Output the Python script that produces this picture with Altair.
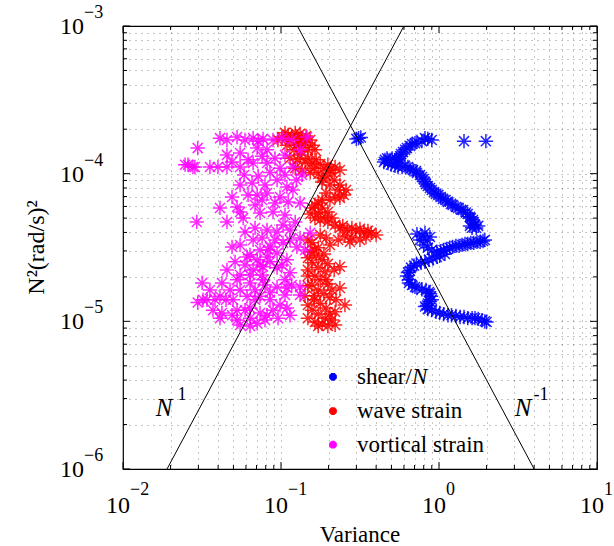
import altair as alt
import pandas as pd

# ---------------- data ----------------
shear_var = [1.44, 1.98, 0.31, 0.30, 0.32, 0.85, 0.78, 0.705, 0.655, 0.61,
             0.575, 0.559, 0.535, 0.49, 0.455, 0.476, 0.527, 0.584, 0.636, 0.685,
             0.725, 0.78, 0.815, 0.85, 0.90, 0.957, 1.025, 1.10, 1.19, 1.28,
             1.38, 1.48, 1.57, 1.64, 1.69, 1.62, 1.77,
             0.90, 0.815, 0.725, 0.675, 0.627, 0.592, 0.567, 0.543, 0.505, 0.469,
             0.448, 0.498, 0.551, 0.61, 0.655, 0.715, 0.758, 0.80, 0.827, 0.877,
             0.93, 0.99, 1.06, 1.14, 1.22, 1.32, 1.42, 1.52, 1.59, 1.66, 1.72, 1.57,
             0.725, 0.815, 0.877, 0.758, 0.85, 0.97, 1.07, 1.17, 1.28, 1.40,
             1.52, 1.66, 1.82, 1.95, 1.01, 0.916, 0.815, 0.72, 0.665, 0.636,
             0.645, 0.675, 0.725, 0.827, 0.877, 0.90, 0.85, 0.815, 0.90, 1.01,
             1.14, 1.28, 1.44, 1.62, 1.77, 2.0,
             0.78, 0.84, 0.80, 0.90, 1.025, 1.12, 1.22, 1.34, 1.46, 1.59, 1.74, 1.90,
             1.09, 0.97, 0.864, 0.77, 0.695, 0.655, 0.627, 0.645, 0.705, 0.78, 0.864,
             0.89, 0.877, 0.84, 0.85, 0.957, 1.07, 1.20, 1.36, 1.52, 1.69, 1.87, 1.95]
shear_n2 = [1.66e-4, 1.66e-4, 1.74e-4, 1.72e-4, 1.76e-4, 1.72e-4, 1.66e-4, 1.61e-4, 1.54e-4, 1.45e-4,
            1.36e-4, 1.27e-4, 1.20e-4, 1.24e-4, 1.24e-4, 1.18e-4, 1.13e-4, 1.11e-4, 1.11e-4, 1.06e-4,
            1.01e-4, 9.5e-5, 8.8e-5, 8.25e-5, 7.76e-5, 7.3e-5, 6.95e-5, 6.64e-5, 6.24e-5, 5.95e-5,
            5.7e-5, 5.45e-5, 5.1e-5, 4.86e-5, 4.5e-5, 4.3e-5, 4.43e-5,
            1.69e-4, 1.74e-4, 1.64e-4, 1.59e-4, 1.49e-4, 1.40e-4, 1.31e-4, 1.24e-4, 1.27e-4, 1.27e-4,
            1.20e-4, 1.15e-4, 1.11e-4, 1.13e-4, 1.07e-4, 1.04e-4, 9.8e-5, 9.2e-5, 8.5e-5, 8.0e-5,
            7.5e-5, 7.18e-5, 6.75e-5, 6.44e-5, 6.14e-5, 5.86e-5, 5.68e-5, 5.33e-5, 5.0e-5, 4.71e-5, 4.29e-5, 4.43e-5,
            3.9e-5, 3.97e-5, 3.72e-5, 3.56e-5, 3.15e-5, 2.95e-5, 3.04e-5, 3.15e-5, 3.24e-5, 3.29e-5,
            3.34e-5, 3.40e-5, 3.45e-5, 3.56e-5, 2.78e-5, 2.66e-5, 2.53e-5, 2.46e-5, 2.31e-5, 2.14e-5,
            1.91e-5, 1.76e-5, 1.68e-5, 1.63e-5, 1.54e-5, 1.40e-5, 1.32e-5, 1.26e-5, 1.19e-5, 1.14e-5,
            1.10e-5, 1.09e-5, 1.07e-5, 1.05e-5, 1.04e-5, 9.9e-6,
            3.79e-5, 3.56e-5, 3.29e-5, 3.04e-5, 2.99e-5, 3.09e-5, 3.19e-5, 3.24e-5, 3.34e-5, 3.40e-5, 3.45e-5, 3.5e-5,
            2.86e-5, 2.73e-5, 2.61e-5, 2.49e-5, 2.38e-5, 2.2e-5, 2.03e-5, 1.82e-5, 1.71e-5, 1.65e-5, 1.58e-5,
            1.48e-5, 1.36e-5, 1.28e-5, 1.21e-5, 1.16e-5, 1.12e-5, 1.10e-5, 1.07e-5, 1.05e-5, 1.05e-5, 1.02e-5, 1.0e-5]

wave_var = [0.1015, 0.111, 0.123, 0.132, 0.144, 0.114, 0.127, 0.142, 0.157, 0.132, 0.121, 0.148, 0.0957,
            0.114, 0.127, 0.142, 0.157, 0.177, 0.198, 0.220, 0.123, 0.136, 0.153, 0.172, 0.193, 0.210,
            0.182, 0.204, 0.230, 0.250, 0.220, 0.193,
            0.172, 0.157, 0.172, 0.190, 0.164,
            0.198, 0.220, 0.236, 0.262, 0.298, 0.335, 0.372, 0.254, 0.281, 0.316, 0.230, 0.204,
            0.157, 0.172, 0.153, 0.167, 0.182, 0.157, 0.172, 0.190, 0.164, 0.177, 0.198, 0.157,
            0.172, 0.187, 0.204, 0.162, 0.177, 0.193, 0.157, 0.172, 0.190, 0.164, 0.182, 0.210,
            0.236, 0.254, 0.142, 0.220, 0.236, 0.148,
            0.106, 0.117, 0.136, 0.153, 0.109, 0.125, 0.136, 0.164,
            0.132, 0.148, 0.167, 0.187, 0.204, 0.236, 0.162, 0.182, 0.217, 0.236,
            0.258, 0.236, 0.204, 0.182, 0.164, 0.182, 0.198, 0.153, 0.177, 0.210,
            0.246, 0.281, 0.316, 0.355, 0.40, 0.345, 0.273, 0.193, 0.177, 0.148,
            0.162, 0.187, 0.148, 0.198, 0.217, 0.148, 0.193, 0.210, 0.148, 0.162,
            0.223, 0.148, 0.204, 0.148, 0.198, 0.220, 0.172]
wave_n2 = [1.77e-4, 1.83e-4, 1.89e-4, 1.86e-4, 1.80e-4, 1.69e-4, 1.69e-4, 1.64e-4, 1.56e-4, 1.51e-4, 1.45e-4, 1.45e-4, 1.69e-4,
           1.27e-4, 1.24e-4, 1.20e-4, 1.18e-4, 1.16e-4, 1.15e-4, 1.11e-4, 1.09e-4, 1.06e-4, 1.02e-4, 9.95e-5, 9.65e-5, 1.02e-4,
           8.78e-5, 8.38e-5, 7.76e-5, 7.18e-5, 6.95e-5, 7.4e-5,
           6.34e-5, 5.86e-5, 5.42e-5, 5.09e-5, 5.0e-5,
           4.71e-5, 4.5e-5, 4.29e-5, 4.16e-5, 4.1e-5, 4.03e-5, 3.97e-5, 3.79e-5, 3.67e-5, 3.56e-5, 3.56e-5, 3.29e-5,
           3.40e-5, 3.15e-5, 2.95e-5, 2.78e-5, 2.61e-5, 2.49e-5, 2.31e-5, 2.17e-5, 2.03e-5, 1.91e-5, 1.79e-5, 1.76e-5,
           1.63e-5, 1.54e-5, 1.45e-5, 1.40e-5, 1.32e-5, 1.23e-5, 1.19e-5, 1.12e-5, 1.05e-5, 9.9e-6, 9.6e-6, 1.02e-5,
           1.68e-5, 1.29e-5, 1.49e-5, 1.16e-5, 2.34e-5, 2.23e-5,
           1.89e-4, 1.77e-4, 1.74e-4, 1.69e-4, 1.56e-4, 1.56e-4, 1.51e-4, 1.45e-4,
           1.34e-4, 1.27e-4, 1.24e-4, 1.09e-4, 1.06e-4, 1.06e-4, 1.09e-4, 9.35e-5, 9.06e-5, 8.38e-5,
           7.76e-5, 6.85e-5, 6.64e-5, 6.64e-5, 6.14e-5, 5.86e-5, 5.5e-5, 5.33e-5, 4.86e-5, 5.0e-5,
           4.43e-5, 4.29e-5, 4.23e-5, 4.1e-5, 3.85e-5, 3.72e-5, 3.45e-5, 3.67e-5, 3.85e-5, 3.56e-5,
           3.04e-5, 2.86e-5, 2.69e-5, 2.45e-5, 2.23e-5, 2.03e-5, 1.91e-5, 1.63e-5, 1.74e-5, 1.49e-5,
           1.40e-5, 1.29e-5, 1.12e-5, 1.05e-5, 9.3e-6, 9.45e-6, 9.3e-6]

vort_var = [0.0411, 0.0455, 0.0527, 0.0666, 0.0770, 0.0890, 0.146, 0.0297, 0.0258, 0.0285,
            0.0399, 0.0455, 0.0551, 0.0666, 0.0816, 0.0986, 0.119, 0.0455, 0.0551, 0.0706,
            0.0816, 0.136, 0.0551, 0.0656, 0.0944, 0.109, 0.119, 0.0706, 0.0816, 0.0986,
            0.111, 0.132, 0.0411, 0.0527, 0.0685, 0.0737, 0.0890, 0.0293, 0.0455, 0.0576,
            0.0685, 0.0816, 0.0944, 0.114, 0.153, 0.0490, 0.0551, 0.0666, 0.0737, 0.0852,
            0.103, 0.126, 0.0610, 0.0706, 0.0816, 0.0944, 0.109, 0.0455, 0.0551, 0.0666,
            0.0770, 0.0944, 0.114, 0.0317, 0.0423, 0.0527, 0.0637, 0.0770, 0.0944, 0.109,
            0.132, 0.0297, 0.0340, 0.0411, 0.0497, 0.0610, 0.0737, 0.0852, 0.0371, 0.0423,
            0.0527, 0.0637, 0.0737, 0.0890, 0.109, 0.0411, 0.0527, 0.0706, 0.0816,
            0.0792, 0.0852, 0.0685, 0.0592, 0.0986, 0.0737, 0.0637, 0.103, 0.0592, 0.0512,
            0.0247, 0.0277, 0.0321,
            0.0592, 0.0717, 0.1015, 0.117, 0.132, 0.106, 0.0916, 0.0759, 0.0619, 0.0490,
            0.0355, 0.0584, 0.0717, 0.0852, 0.106, 0.125, 0.0792, 0.0619, 0.0490, 0.0916,
            0.0759, 0.0551, 0.106, 0.123, 0.132, 0.0759, 0.0916, 0.114, 0.142, 0.0828,
            0.0592, 0.0852, 0.1015, 0.0637, 0.0759, 0.106, 0.117, 0.132, 0.0685, 0.0551,
            0.0476, 0.0382, 0.106, 0.114, 0.0958, 0.0792, 0.0637, 0.0490, 0.0449, 0.0355,
            0.0637, 0.0551]
vort_n2 = [1.74e-4, 1.69e-4, 1.77e-4, 1.74e-4, 1.72e-4, 1.69e-4, 1.77e-4, 1.49e-4, 1.15e-4, 1.11e-4,
           1.11e-4, 1.11e-4, 1.11e-4, 1.18e-4, 1.18e-4, 1.09e-4, 1.11e-4, 1.34e-4, 1.38e-4, 1.49e-4,
           1.45e-4, 9.8e-5, 8.38e-5, 8.65e-5, 9.06e-5, 8.13e-5, 7.76e-5, 7.18e-5, 7.4e-5, 6.95e-5,
           6.44e-5, 6.34e-5, 5.86e-5, 5.95e-5, 6.14e-5, 5.42e-5, 5.5e-5, 4.71e-5, 4.71e-5, 5.0e-5,
           4.29e-5, 4.16e-5, 4.03e-5, 4.16e-5, 3.97e-5, 3.19e-5, 3.29e-5, 3.56e-5, 3.04e-5, 3.19e-5,
           3.40e-5, 3.19e-5, 2.73e-5, 2.61e-5, 2.73e-5, 2.9e-5, 2.61e-5, 2.23e-5, 2.06e-5, 2.23e-5,
           2.34e-5, 2.31e-5, 2.13e-5, 1.82e-5, 1.82e-5, 1.91e-5, 1.82e-5, 1.91e-5, 1.71e-5, 1.68e-5,
           1.71e-5, 1.34e-5, 1.40e-5, 1.48e-5, 1.40e-5, 1.48e-5, 1.48e-5, 1.57e-5, 1.19e-5, 1.14e-5,
           1.19e-5, 1.23e-5, 1.14e-5, 1.19e-5, 1.23e-5, 1.05e-5, 1.02e-5, 9.7e-6, 1.10e-5,
           1.76e-5, 1.40e-5, 1.63e-5, 1.19e-5, 1.29e-5, 2.41e-5, 2.82e-5, 4.5e-5, 4.03e-5, 2.53e-5,
           1.15e-4, 1.11e-4, 1.40e-5,
           1.69e-4, 1.66e-4, 1.74e-4, 1.69e-4, 1.45e-4, 1.34e-4, 1.27e-4, 1.31e-4, 1.24e-4, 1.20e-4,
           1.11e-4, 9.8e-5, 9.65e-5, 1.02e-4, 9.8e-5, 9.06e-5, 8.38e-5, 7.18e-5, 6.95e-5, 6.34e-5,
           6.64e-5, 5.5e-5, 5.25e-5, 4.71e-5, 3.67e-5, 3.67e-5, 3.56e-5, 3.56e-5, 3.04e-5, 3.04e-5,
           2.41e-5, 2.53e-5, 2.41e-5, 2.06e-5, 2.06e-5, 1.91e-5, 1.76e-5, 1.51e-5, 1.40e-5, 1.63e-5,
           1.63e-5, 1.40e-5, 1.51e-5, 1.10e-5, 1.05e-5, 1.02e-5, 1.05e-5, 1.10e-5, 1.40e-5, 1.63e-5,
           9.3e-6, 9.45e-6]

series_names = ["shear/N", "wave strain", "vortical strain"]
series_colors = ["#0000ff", "#ff0000", "#ff00ff"]

# legend entries (label text pieces; italic part separate)
legend_plain = ["shear/", "wave strain", "vortical strain"]
legend_italic = ["N", "", ""]
legend_var = [0.2133, 0.2133, 0.2133]
legend_n2 = [4.21e-6, 2.47e-6, 1.46e-6]

# reference power-law lines (end points on the frame)
line_n1_var = [0.019, 0.60]
line_n1_n2 = [1e-6, 1e-3]
line_nm1_var = [0.127, 4.0]
line_nm1_n2 = [1e-3, 1e-6]

# annotation labels
ann_var = [0.01817, 3.40]
ann_n2 = [2.59e-6, 2.59e-6]
ann_sup_var = [0.0236, 4.42]
ann_sup_n2 = [3.18e-6, 3.18e-6]
ann_sup_text = ["1", "-1"]

# axis ticks
x_major = [0.01, 0.1, 1, 10]
x_minor = [k * 10.0 ** d for d in (-2, -1, 0) for k in range(2, 10)]
y_major = [1e-6, 1e-5, 1e-4, 1e-3]
y_minor = [k * 10.0 ** d for d in (-6, -5, -4) for k in range(2, 10)]
x_exps = ["\u22122", "\u22121", "0", "1"]
y_exps = ["\u22126", "\u22125", "\u22124", "\u22123"]

# ---------------- build ----------------
W, H = 474, 443
FONT = "Liberation Serif"
STAR = "M-1,0L1,0M0,-1L0,1M-0.7,-0.7L0.7,0.7M-0.7,0.7L0.7,-0.7"

rows = []
for name, xs, ys in zip(series_names, [shear_var, wave_var, vort_var], [shear_n2, wave_n2, vort_n2]):
    for a, b in zip(xs, ys):
        rows.append({"series": name, "var": a, "n2": b})
pts = pd.DataFrame(rows)
pts["ord"] = range(len(pts))

xscale = alt.Scale(type="log", domain=[0.01, 10], nice=False)
yscale = alt.Scale(type="log", domain=[1e-6, 1e-3], nice=False)
cscale = alt.Scale(domain=series_names, range=series_colors)
all_x = sorted(x_major + x_minor)
all_y = sorted(y_major + y_minor)


def X(field="var"):
    return alt.X(f"{field}:Q", scale=xscale)


def Y(field="n2"):
    return alt.Y(f"{field}:Q", scale=yscale)


base_x = alt.X("var:Q", scale=xscale, axis=alt.Axis(
    values=all_x, grid=True, gridDash=[1, 5], gridColor="#000000", gridOpacity=0.45,
    labels=False, ticks=False, domain=False, title=None))
base_y = alt.Y("n2:Q", scale=yscale, axis=alt.Axis(
    values=all_y, grid=True, gridDash=[1, 5], gridColor="#000000", gridOpacity=0.45,
    labels=False, ticks=False, domain=False, title=None))

points = alt.Chart(pts).mark_point(shape=STAR, filled=False, size=205, strokeWidth=1.5,
                                   opacity=0.85).encode(
    x=base_x, y=base_y,
    color=alt.Color("series:N", scale=cscale, legend=None),
    order=alt.Order("ord:Q"))

lines_df = pd.DataFrame({
    "var": line_n1_var + line_nm1_var,
    "n2": line_n1_n2 + line_nm1_n2,
    "which": ["a", "a", "b", "b"]})
lines = alt.Chart(lines_df).mark_line(color="black", strokeWidth=1).encode(
    x=X(), y=Y(), detail="which:N")

# annotations N^1 and N^-1
ann_df = pd.DataFrame({"var": ann_var, "n2": ann_n2, "t": ["N", "N"]})
ann_n = alt.Chart(ann_df).mark_text(font=FONT, fontSize=25, fontStyle="italic",
                                    baseline="middle", align="center", color="black").encode(
    x=X(), y=Y(), text="t:N")
sup_df = pd.DataFrame({"var": ann_sup_var, "n2": ann_sup_n2, "t": ann_sup_text})
ann_sup = alt.Chart(sup_df).mark_text(font=FONT, fontSize=18, baseline="middle",
                                      align="center", color="black").encode(
    x=X(), y=Y(), text="t:N")

# legend drawn inside the plot
leg_df = pd.DataFrame({"var": legend_var, "n2": legend_n2, "series": series_names,
                       "plain": legend_plain, "ital": legend_italic})
leg_sym = alt.Chart(leg_df).mark_point(shape=STAR, filled=False, size=60, strokeWidth=3,
                                       opacity=1).encode(
    x=X(), y=Y(), color=alt.Color("series:N", scale=cscale, legend=None))
leg_txt = alt.Chart(leg_df).mark_text(font=FONT, fontSize=23, align="left", baseline="middle",
                                      dx=24, color="black").encode(x=X(), y=Y(), text="plain:N")
leg_ital = alt.Chart(leg_df).mark_text(font=FONT, fontSize=23, fontStyle="italic", align="left",
                                       baseline="middle", dx=79, color="black").encode(
    x=X(), y=Y(), text="ital:N")

# axis titles
xt_df = pd.DataFrame({"var": [0.3162], "n2": [1e-6], "t": ["Variance"]})
x_title = alt.Chart(xt_df).mark_text(font=FONT, fontSize=23, align="center", baseline="alphabetic",
                                     dy=73, color="black").encode(x=X(), y=Y(), text="t:N")
yt_df = pd.DataFrame({"var": [0.01], "n2": [3.162e-5], "t": ["N\u00b2(rad/s)\u00b2"]})
y_title = alt.Chart(yt_df).mark_text(font=FONT, fontSize=24, align="center", baseline="alphabetic",
                                     angle=270, dy=-79, color="black").encode(x=X(), y=Y(), text="t:N")

# tick labels built as text (10 with superscript exponent)
xl_df = pd.DataFrame({"var": x_major, "n2": [1e-6] * 4, "e": x_exps, "b": ["10"] * 4})
xl_base = alt.Chart(xl_df).mark_text(font=FONT, fontSize=24, align="right",
                                     baseline="alphabetic", dx=7, dy=44, color="black").encode(
    x=X(), y=Y(), text="b:N")
xl_exp = alt.Chart(xl_df).mark_text(font=FONT, fontSize=18, align="left",
                                    baseline="alphabetic", dx=7, dy=26, color="black").encode(
    x=X(), y=Y(), text="e:N")
yl_df = pd.DataFrame({"var": [0.01] * 4, "n2": y_major, "e": y_exps, "b": ["10"] * 4})
yl_base = alt.Chart(yl_df).mark_text(font=FONT, fontSize=24, align="right",
                                     baseline="alphabetic", dx=-39, dy=8, color="black").encode(
    x=X(), y=Y(), text="b:N")
yl_exp = alt.Chart(yl_df).mark_text(font=FONT, fontSize=18, align="left",
                                    baseline="alphabetic", dx=-39, dy=-8, color="black").encode(
    x=X(), y=Y(), text="e:N")


# inward ticks on all four sides
def xticks(vals, y0, y1):
    return alt.Chart(pd.DataFrame({"var": vals})).mark_rule(color="black", strokeWidth=1).encode(
        x=X(), y=alt.value(y0), y2=alt.value(y1))


def yticks(vals, x0, x1):
    return alt.Chart(pd.DataFrame({"n2": vals})).mark_rule(color="black", strokeWidth=1).encode(
        y=Y(), x=alt.value(x0), x2=alt.value(x1))


ticks = [
    xticks(x_major, H, H - 7), xticks(x_minor, H, H - 4),
    xticks(x_major, 0, 7), xticks(x_minor, 0, 4),
    yticks(y_major, 0, 7), yticks(y_minor, 0, 4),
    yticks(y_major, W, W - 7), yticks(y_minor, W, W - 4),
]

chart = alt.layer(points, lines, ann_n, ann_sup, leg_sym, leg_txt, leg_ital, x_title, y_title,
                  xl_base, xl_exp, yl_base, yl_exp, *ticks).properties(
    width=W, height=H,
    autosize=alt.AutoSizeParams(type="none"),
    padding={"left": 123, "top": 26, "right": 17, "bottom": 77},
    background="white",
).configure(font=FONT).configure_view(stroke="black", strokeWidth=1.2)

chart.save("out.html", embed_options={"renderer": "svg", "actions": False})
